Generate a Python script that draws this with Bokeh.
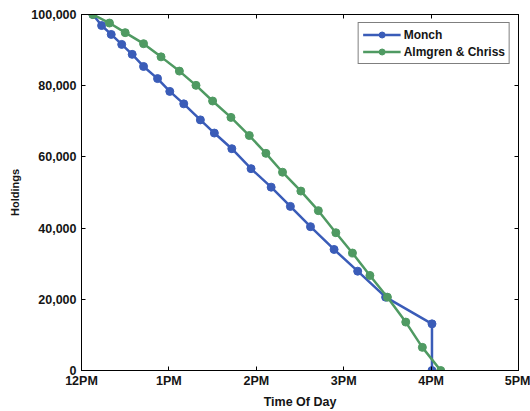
from bokeh.plotting import figure
from bokeh.models import (LinearAxis, FixedTicker, NumeralTickFormatter, Range1d,
                          Legend, LegendItem)
from bokeh.embed import file_html
from bokeh.resources import INLINE

# Hours after 12PM and remaining holdings
monch_t = [0.13, 0.23, 0.34, 0.46, 0.58, 0.71, 0.87, 1.01, 1.17, 1.36, 1.52, 1.72,
           1.94, 2.17, 2.39, 2.62, 2.89, 3.16, 3.48, 4.01, 4.01]
monch_h = [100000, 96900, 94400, 91600, 88800, 85400, 82000, 78400, 74900, 70400,
           66700, 62300, 56700, 51500, 46100, 40400, 34000, 27900, 20600, 13100, 0]

ac_t = [0.13, 0.32, 0.50, 0.71, 0.91, 1.12, 1.31, 1.50, 1.71, 1.92, 2.11, 2.30,
        2.51, 2.71, 2.91, 3.10, 3.30, 3.50, 3.71, 3.90, 4.11]
ac_h = [100000, 97600, 94900, 91800, 88100, 84100, 80100, 75700, 71100, 66000,
        61000, 55700, 50400, 44900, 38700, 33000, 26700, 20600, 13600, 6500, 0]

x_ticks = [0, 1, 2, 3, 4, 5]
x_labels = ["12PM", "1PM", "2PM", "3PM", "4PM", "5PM"]
y_ticks = [0, 20000, 40000, 60000, 80000, 100000]

FONT = "Liberation Sans"
BLUE = "#3a5cb8"
GREEN = "#4f9a62"
TXT = "#151515"

p = figure(width=530, height=411, output_backend="svg", toolbar_location=None,
           x_range=Range1d(0, 5), y_range=Range1d(0, 100000),
           min_border_left=81, min_border_right=12, min_border_top=14,
           min_border_bottom=41)
p.grid.visible = False
p.outline_line_color = "black"
p.outline_line_width = 1
p.background_fill_color = "white"
p.border_fill_color = "white"

for ax in (p.xaxis[0], p.yaxis[0]):
    ax.major_tick_in = 4
    ax.major_tick_out = 0
    ax.minor_tick_line_color = None
    ax.axis_line_color = "black"
    ax.major_label_text_font = FONT
    ax.major_label_text_font_size = "12.5px"
    ax.major_label_text_font_style = "bold"
    ax.major_label_text_color = TXT
    ax.axis_label_text_font = FONT
    ax.axis_label_text_font_style = "bold"
    ax.axis_label_text_color = TXT

p.xaxis[0].ticker = FixedTicker(ticks=x_ticks)
p.xaxis[0].major_label_overrides = {t: l for t, l in zip(x_ticks, x_labels)}
p.xaxis[0].axis_label = "Time Of Day"
p.xaxis[0].axis_label_text_font_size = "12.5px"
p.xaxis[0].major_label_standoff = 3
p.xaxis[0].axis_label_standoff = 4

p.yaxis[0].ticker = FixedTicker(ticks=y_ticks)
p.yaxis[0].formatter = NumeralTickFormatter(format="0,0")
p.yaxis[0].axis_label = "Holdings"
p.yaxis[0].axis_label_text_font_size = "11px"
p.yaxis[0].major_label_standoff = 5
p.yaxis[0].axis_label_standoff = 7

top = LinearAxis(ticker=FixedTicker(ticks=x_ticks), major_label_text_font_size="0px",
                 major_tick_in=4, major_tick_out=0, minor_tick_line_color=None,
                 major_label_text_color=None)
right = LinearAxis(ticker=FixedTicker(ticks=y_ticks), major_label_text_font_size="0px",
                   major_tick_in=4, major_tick_out=0, minor_tick_line_color=None,
                   major_label_text_color=None)
p.add_layout(top, "above")
p.add_layout(right, "right")

l1 = p.line(monch_t, monch_h, line_color=BLUE, line_width=2.5)
s1 = p.scatter(monch_t, monch_h, size=8, fill_color=BLUE, line_color=BLUE)
l2 = p.line(ac_t, ac_h, line_color=GREEN, line_width=2.5)
s2 = p.scatter(ac_t, ac_h, size=8, fill_color=GREEN, line_color=GREEN)

legend = Legend(items=[LegendItem(label="Monch", renderers=[l1, s1]),
                       LegendItem(label="Almgren & Chriss", renderers=[l2, s2])],
                location="top_right", margin=8, padding=4, spacing=2,
                glyph_width=38, glyph_height=15, label_height=15,
                label_standoff=3,
                label_text_font=FONT, label_text_font_size="12px",
                label_text_font_style="bold",
                label_text_color=TXT,
                border_line_color="black", border_line_width=1,
                background_fill_color="white", background_fill_alpha=1)
p.add_layout(legend, "center")

open("out.html", "w").write(file_html(p, INLINE))
